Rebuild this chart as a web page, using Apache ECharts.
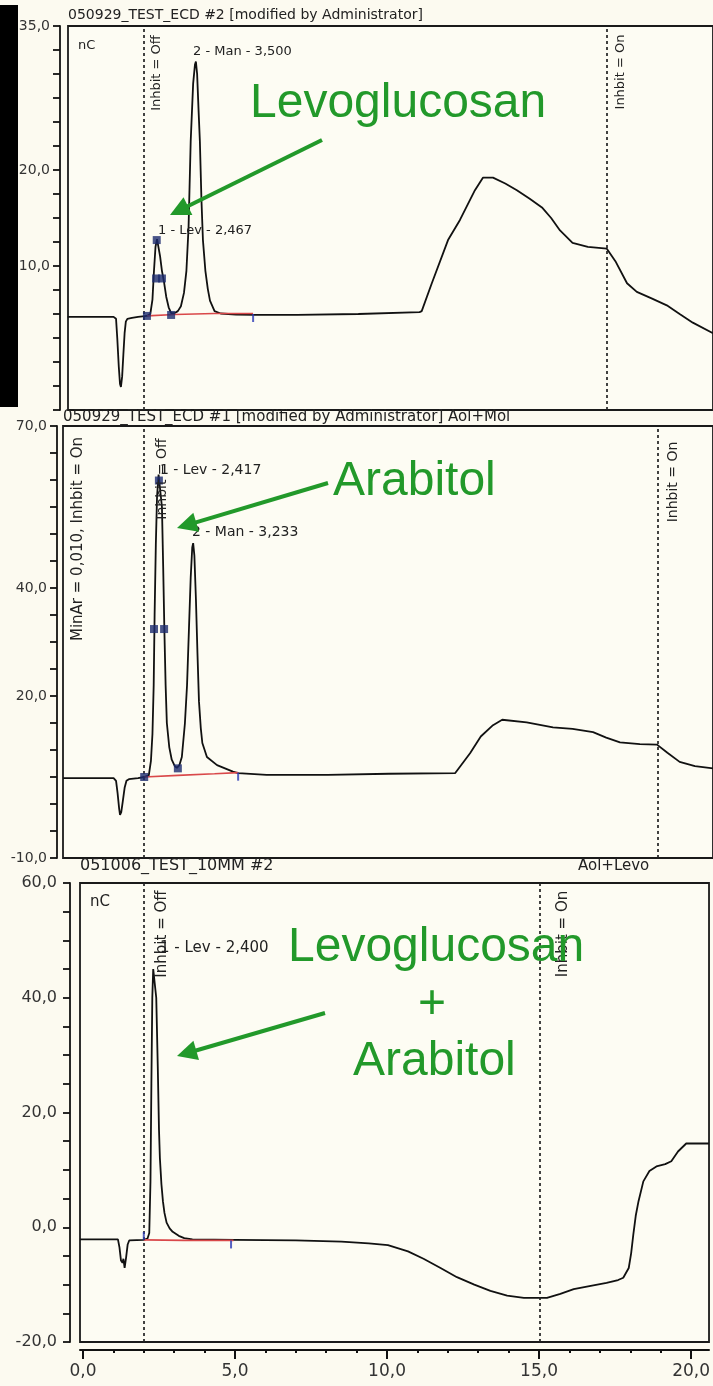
<!DOCTYPE html>
<html><head><meta charset="utf-8">
<script src="https://cdn.jsdelivr.net/npm/echarts@6/dist/echarts.min.js"></script>
<style>html,body{margin:0;padding:0;background:#fcfaf0;}#c{width:713px;height:1386px;}</style>
</head><body><div id="c"></div>
<script>
// ---------- data (retention time in min, signal in nC) ----------
const trace1 = [[-0.5,4.7],[1.0,4.7],[1.08,4.5],[1.12,2.5],[1.17,-0.5],[1.21,-2.3],[1.24,-2.6],[1.28,-1.5],[1.32,0.8],[1.36,3.0],[1.40,4.2],[1.45,4.5],[1.6,4.6],[1.8,4.7],[2.09,4.8],[2.2,5.0],[2.27,6.5],[2.32,9.5],[2.37,12.0],[2.42,12.8],[2.47,12.6],[2.52,11.0],[2.58,9.5],[2.65,8.3],[2.72,6.8],[2.80,5.7],[2.88,5.1],[3.0,5.1],[3.1,5.3],[3.2,5.8],[3.3,7.2],[3.38,9.5],[3.45,14],[3.52,23],[3.60,29],[3.66,31.0],[3.69,31.3],[3.73,30],[3.78,26],[3.82,23],[3.87,17],[3.92,12.7],[4.0,9.5],[4.08,7.6],[4.15,6.4],[4.3,5.3],[4.5,5.05],[5.0,4.95],[5.6,4.9],[7.0,4.9],[9.0,5.0],[11.0,5.2],[11.07,5.3],[11.4,8.2],[11.93,12.7],[12.32,14.8],[12.81,17.9],[13.07,19.2],[13.4,19.2],[13.8,18.6],[14.18,17.9],[14.6,17.0],[15.0,16.1],[15.3,15.0],[15.59,13.7],[16.0,12.4],[16.5,12.0],[17.12,11.8],[17.4,10.5],[17.78,8.2],[18.1,7.3],[18.6,6.6],[19.08,5.9],[19.5,5.0],[19.93,4.1],[20.59,3.0]];
const trace2 = [[-0.65,4.8],[1.0,4.8],[1.08,4.3],[1.13,2.0],[1.18,-0.8],[1.21,-2.0],[1.25,-1.5],[1.30,0.5],[1.36,3.0],[1.42,4.3],[1.5,4.6],[1.8,4.8],[2.0,5.0],[2.15,5.3],[2.22,8],[2.27,13],[2.31,22],[2.34,35],[2.38,48],[2.42,57],[2.47,61],[2.53,61],[2.58,55],[2.62,44],[2.66,32],[2.70,22],[2.74,15],[2.82,10.5],[2.9,8.2],[3.0,7.0],[3.07,6.7],[3.15,7.2],[3.23,8.7],[3.33,14.9],[3.40,22],[3.46,32],[3.52,42],[3.57,47.5],[3.60,48.3],[3.64,46],[3.69,38],[3.74,28],[3.79,19],[3.85,14],[3.9,11.3],[4.05,8.7],[4.38,7.2],[4.9,6.0],[5.07,5.7],[6,5.4],[8,5.4],[10,5.6],[12.16,5.7],[12.65,9.4],[13.0,12.5],[13.4,14.6],[13.7,15.6],[14.5,15.1],[15.36,14.2],[16.0,13.9],[16.67,13.3],[17.1,12.3],[17.55,11.4],[18.2,11.1],[18.76,11.0],[19.1,9.5],[19.5,7.8],[20.0,7.0],[20.59,6.6]];
const trace3 = [[-0.1,-2.1],[1.15,-2.1],[1.2,-3.5],[1.25,-5.8],[1.3,-6.2],[1.33,-5.5],[1.37,-7.1],[1.42,-5.2],[1.47,-3.0],[1.52,-2.3],[2.0,-2.2],[2.12,-2.0],[2.18,-1],[2.22,8],[2.25,25],[2.28,40],[2.31,45],[2.36,45],[2.41,40],[2.46,28],[2.50,17],[2.53,12],[2.58,7.5],[2.63,4.5],[2.68,2.5],[2.75,0.8],[2.85,-0.2],[2.95,-0.8],[3.15,-1.5],[3.33,-1.9],[3.6,-2.1],[5.0,-2.2],[7.0,-2.3],[8.5,-2.5],[9.4,-2.8],[10.03,-3.1],[10.69,-4.2],[11.2,-5.5],[11.76,-7.1],[12.3,-8.7],[12.87,-10],[13.4,-11.1],[13.95,-11.9],[14.5,-12.3],[15.26,-12.3],[15.7,-11.6],[16.14,-10.8],[16.7,-10.2],[17.22,-9.7],[17.6,-9.2],[17.77,-8.8],[17.95,-7.1],[18.03,-4.5],[18.1,-1.3],[18.18,2],[18.27,4.5],[18.43,8.0],[18.63,9.8],[18.86,10.6],[19.15,11.0],[19.35,11.5],[19.57,13.2],[19.84,14.6],[20.59,14.6]];

const baseline1 = [[2.09,4.8],[3.0,4.95],[4.3,5.05],[5.56,5.05]];
const baseline2 = [[2.0,5.0],[3.1,5.3],[4.3,5.6],[5.07,5.8]];
const baseline3 = [[2.0,-2.2],[3.33,-2.3],[4.95,-2.3]];

const markers1 = [[2.09,4.8],[2.41,12.7],[2.39,8.7],[2.58,8.7],[2.88,4.9]];
const markers2 = [[2.0,5.0],[2.48,59.9],[2.32,32.4],[2.65,32.4],[3.1,6.6]];
const endTicks1 = [[5.56,5.0]];
const endTicks2 = [[5.07,5.8]];
const endTicks3 = [[4.87,-2.3]];
const startTicks3 = [[2.0,-2.2]];

const inhibitOff = [2.0, 2.0, 2.0];
const inhibitOn = [17.12, 18.79, 15.03];

const yTicks1 = [35,32.5,30,27.5,25,22.5,20,17.5,15,12.5,10,7.5,5,2.5,0,-2.5,-5];
const yLabels1 = [35,20,10];
const yTicks2 = [70,65,60,55,50,45,40,35,30,25,20,15,10,5,0,-5,-10];
const yLabels2 = [70,40,20,-10];
const yTicks3 = [60,55,50,45,40,35,30,25,20,15,10,5,0,-5,-10,-15,-20];
const yLabels3 = [60,40,20,0,-20];
const xLabels = [0,5,10,15,20];
const xMinorTicks = [1,2,3,4,6,7,8,9,11,12,13,14,16,17,18,19];

// ---------- chart ----------
const fmt = v => Number(v).toFixed(1).replace('.', ',');
const FONT = '"DejaVu Sans", sans-serif';
const chart = echarts.init(document.getElementById('c'), null, {renderer:'canvas'});

const grids = [
  {left:68, top:26, right:0, height:384},
  {left:63, top:426, right:0, height:432},
  {left:80, top:883, right:0, height:459}
].map(g => Object.assign(g, {show:true, backgroundColor:'#fdfcf3', borderColor:'#1a1a1a', borderWidth:1.8}));

const xMax = 20.59;
const xMins = [-0.49, -0.654, -0.098];
const xAxes = xMins.map((mn, i) => ({
  gridIndex:i, type:'value', min:mn, max:xMax, show: i === 2, offset:8, position:'bottom',
  axisLine:{show:true, onZero:false, lineStyle:{color:'#111', width:2}},
  axisTick:{show:true, customValues:xLabels, length:9, lineStyle:{color:'#111', width:2}},
  axisLabel:{customValues:xLabels, formatter:fmt, color:'#333', fontFamily:FONT, fontSize:17, margin:13},
  splitLine:{show:false}
}));
xAxes.push({
  gridIndex:2, type:'value', min:xMins[2], max:xMax, offset:8, position:'bottom',
  axisLine:{show:false, onZero:false},
  axisTick:{show:true, customValues:xMinorTicks, length:3, lineStyle:{color:'#111', width:2}},
  axisLabel:{show:false}, splitLine:{show:false}
});

function yAxis(i, mn, mx, ticks, labels, off, fs, mg) {
  return {
    gridIndex:i, type:'value', min:mn, max:mx, offset:off, position:'left',
    axisLine:{show:true, onZero:false, lineStyle:{color:'#111', width:1.8}},
    axisTick:{show:true, customValues:ticks, length:7, lineStyle:{color:'#111', width:1.8}},
    axisLabel:{customValues:labels, formatter:fmt, color:'#333', fontFamily:FONT, fontSize:fs, margin:mg},
    splitLine:{show:false}
  };
}
const yAxes = [
  yAxis(0, -5, 35, yTicks1, yLabels1, 8, 14, 10),
  yAxis(1, -10, 70, yTicks2, yLabels2, 6, 14, 10),
  yAxis(2, -20, 60, yTicks3, yLabels3, 10, 16, 13)
];

const traces = [trace1, trace2, trace3];
const baselines = [baseline1, baseline2, baseline3];
const series = [];
traces.forEach((tr, i) => {
  series.push({
    type:'line', xAxisIndex:i, yAxisIndex:i, data:tr, showSymbol:false, z:3,
    lineStyle:{color:'#111', width:1.8}, animation:false,
    markLine:{symbol:'none', silent:true, label:{show:false}, animation:false,
      lineStyle:{color:'#222', type:[3,3], width:1.7},
      data:[{xAxis:inhibitOff[i]}, {xAxis:inhibitOn[i]}]}
  });
  series.push({
    type:'line', xAxisIndex:i, yAxisIndex:i, data:baselines[i], showSymbol:false, z:4,
    lineStyle:{color:'#d9484a', width:1.7}, animation:false
  });
});
[[markers1,0],[markers2,1]].forEach(([d,i]) => series.push({
  type:'scatter', xAxisIndex:i, yAxisIndex:i, data:d, symbol:'rect', symbolSize:8, z:5,
  itemStyle:{color:'#1b2a6e'}, animation:false
}));
[[endTicks1,0],[endTicks2,1],[endTicks3,2]].forEach(([d,i]) => series.push({
  type:'scatter', xAxisIndex:i, yAxisIndex:i, data:d, symbol:'rect', symbolSize:[2,8], symbolOffset:[0,4], z:5,
  itemStyle:{color:'#2a3ab5'}, animation:false
}));
series.push({
  type:'scatter', xAxisIndex:2, yAxisIndex:2, data:startTicks3, symbol:'rect', symbolSize:[2,8], symbolOffset:[0,-4], z:5,
  itemStyle:{color:'#2a3ab5'}, animation:false
});

// ---------- annotations ----------
const GREEN = '#22992a';
function txt(text, x, y, size, opts) {
  opts = opts || {};
  const align = opts.align || 'left';
  return {
    type:'text', x:x, y:y, rotation: opts.rot ? Math.PI/2 : 0, z:20,
    style:{text:text, fill:opts.color || '#222', font: size + 'px ' + (opts.family || FONT),
      align:align, textAlign:align, verticalAlign:'middle', textVerticalAlign:'middle'}
  };
}
function arrow(x1, y1, x2, y2) {
  const dx = x2 - x1, dy = y2 - y1, L = Math.hypot(dx, dy);
  const ux = dx / L, uy = dy / L, hl = 20, hw = 10;
  const bx = x2 - ux * hl, by = y2 - uy * hl;
  return [
    {type:'line', z:20, shape:{x1:x1, y1:y1, x2:bx + ux*2, y2:by + uy*2}, style:{stroke:GREEN, lineWidth:4}},
    {type:'polygon', z:20, shape:{points:[[x2,y2],[bx - uy*hw, by + ux*hw],[bx + uy*hw, by - ux*hw]]}, style:{fill:GREEN}}
  ];
}
const SANS = '"Liberation Sans", Arial, sans-serif';
const graphic = [
  {type:'rect', z:30, shape:{x:0, y:5, width:18, height:402}, style:{fill:'#000'}},
  // panel 1
  txt('050929_TEST_ECD #2 [modified by Administrator]', 68, 15, 14),
  txt('nC', 78, 46, 13),
  txt('Inhbit = Off', 157, 73, 13, {rot:true, align:'center'}),
  txt('Inhbit = On', 621, 72, 13, {rot:true, align:'center'}),
  txt('2 - Man - 3,500', 193, 52, 13),
  txt('1 - Lev - 2,467', 158, 231, 13),
  txt('Levoglucosan', 250, 104, 48, {color:GREEN, family:SANS}),
  ...arrow(322, 140, 170, 215),
  // panel 2
  txt('050929_TEST_ECD #1 [modified by Administrator] Aol+Mol', 63, 417, 15),
  txt('MinAr = 0,010, Inhbit = On', 78, 539, 15, {rot:true, align:'center'}),
  txt('Inhbit = Off', 162, 479, 14, {rot:true, align:'center'}),
  txt('Inhbit = On', 673, 482, 14, {rot:true, align:'center'}),
  txt('1 - Lev - 2,417', 160, 470, 14),
  txt('2 - Man - 3,233', 192, 532, 14),
  txt('Arabitol', 333, 482, 48, {color:GREEN, family:SANS}),
  ...arrow(328, 483, 177, 528),
  // panel 3
  txt('051006_TEST_10MM #2', 80, 866, 16),
  txt('Aol+Levo', 578, 866, 15),
  txt('nC', 90, 902, 15),
  txt('Inhbit = Off', 162, 934, 15, {rot:true, align:'center'}),
  txt('Inhbit = On', 563, 934, 15, {rot:true, align:'center'}),
  txt('1 - Lev - 2,400', 160, 948, 15),
  txt('Levoglucosan', 288, 948, 48, {color:GREEN, family:SANS}),
  txt('+', 432, 1005, 48, {color:GREEN, family:SANS, align:'center'}),
  txt('Arabitol', 353, 1062, 48, {color:GREEN, family:SANS}),
  ...arrow(325, 1013, 177, 1056)
];

chart.setOption({
  backgroundColor:'#fcfaf0',
  animation:false,
  grid:grids, xAxis:xAxes, yAxis:yAxes, series:series, graphic:graphic
});
</script></body></html>
